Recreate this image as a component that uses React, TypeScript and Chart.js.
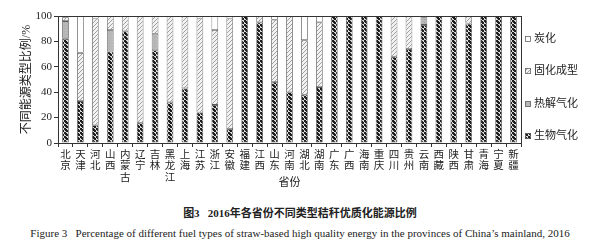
import React, { useEffect, useRef } from 'react';
import { Chart, registerables } from 'chart.js';

Chart.register(...registerables);

const provinces = ['北京', '天津', '河北', '山西', '内蒙古', '辽宁', '吉林', '黑龙江', '上海', '江苏', '浙江', '安徽', '福建', '江西', '山东', '河南', '湖北', '湖南', '广东', '广西', '海南', '重庆', '四川', '贵州', '云南', '西藏', '陕西', '甘肃', '青海', '宁夏', '新疆'];

// 生物气化
const bioGasification = [82, 33, 14, 72, 88, 16, 73, 32, 43, 24, 30, 11, 100, 95, 48, 40, 38, 44, 100, 100, 100, 100, 68, 74, 93, 100, 100, 94, 100, 100, 100];
// 热解气化
const pyrolysisGasification = [14, 0, 0, 17, 0, 0, 13, 0, 0, 0, 0, 0, 0, 0, 0, 0, 0, 0, 0, 0, 0, 0, 0, 0, 6, 0, 0, 0, 0, 0, 0];
// 固化成型
const solidFuel = [3, 38, 84, 11, 12, 84, 14, 68, 57, 74, 59, 87, 0, 5, 49, 60, 43, 51, 0, 0, 0, 0, 32, 26, 1, 0, 0, 6, 0, 0, 0];
// 炭化
const carbonization = [1, 29, 2, 0, 0, 0, 0, 0, 0, 2, 11, 2, 0, 0, 3, 0, 19, 5, 0, 0, 0, 0, 0, 0, 0, 0, 0, 0, 0, 0, 0];

const seriesNames = ['生物气化', '热解气化', '固化成型', '炭化'];
const yMin = 0;
const yMax = 100;
const yStep = 10;
const yTitle = '不同能源类型比例/%';
const xTitle = '省份';
const captionCn = '图3\u2002 2016年各省份不同类型秸秆优质化能源比例';
const captionEn = 'Figure 3\u2002 Percentage of different fuel types of straw-based high quality energy in the provinces of China\u2019s mainland, 2016';

const FONT = '"Liberation Serif", "Noto Sans CJK SC", serif';

function makePattern(kind: string): CanvasPattern | string {
  const c = document.createElement('canvas');
  const ctx = c.getContext('2d')!;
  if (kind === 'bio') {
    c.width = 4; c.height = 4;
    ctx.fillStyle = '#d8d8d8';
    ctx.fillRect(0, 0, 4, 4);
    ctx.fillStyle = '#1e1e1e';
    ctx.fillRect(0, 0, 2, 2);
    ctx.fillRect(2, 2, 2, 2);
    ctx.fillRect(1, 1, 2, 2);
  } else if (kind === 'pyro') {
    c.width = 3; c.height = 3;
    ctx.fillStyle = '#b8b8b8';
    ctx.fillRect(0, 0, 3, 3);
    ctx.fillStyle = '#a8a8a8';
    ctx.fillRect(1, 1, 1, 1);
  } else if (kind === 'solid') {
    c.width = 4; c.height = 4;
    ctx.fillStyle = '#f2f2f2';
    ctx.fillRect(0, 0, 4, 4);
    ctx.fillStyle = '#a0a0a0';
    for (let i = 0; i < 4; i++) ctx.fillRect(i, 3 - i, 1, 1);
  } else {
    return '#ffffff';
  }
  return ctx.createPattern(c, 'repeat')!;
}

const sideLegendAndFrame = {
  id: 'sideLegendAndFrame',
  afterDraw(chart: any) {
    const { ctx, chartArea } = chart;
    const ds = chart.data.datasets;
    ctx.save();
    ctx.strokeStyle = '#333';
    ctx.lineWidth = 1;
    ctx.strokeRect(Math.round(chartArea.left) + 0.5, Math.round(chartArea.top) + 0.5, Math.round(chartArea.width), Math.round(chartArea.height));
    ctx.font = '11px ' + FONT;
    ctx.textBaseline = 'middle';
    ctx.textAlign = 'left';
    const n = ds.length;
    for (let k = 0; k < n; k++) {
      const d = ds[n - 1 - k];
      const y = Math.round(chartArea.top + 23 + k * 32.3);
      const x = Math.round(chartArea.right + 4);
      ctx.fillStyle = d.backgroundColor;
      ctx.fillRect(x, y - 3, 6, 6);
      ctx.strokeStyle = '#666';
      ctx.lineWidth = 0.8;
      ctx.strokeRect(x + 0.5, y - 2.5, 5, 5);
      ctx.fillStyle = '#222';
      ctx.fillText(d.label, x + 9, y + 0.5);
    }
    ctx.restore();
  },
};

export default function App() {
  const ref = useRef<HTMLCanvasElement | null>(null);

  useEffect(() => {
    if (!ref.current) return;
    const fills = [makePattern('bio'), makePattern('pyro'), makePattern('solid'), makePattern('carbon')];
    const values = [bioGasification, pyrolysisGasification, solidFuel, carbonization];
    const chart = new Chart(ref.current, {
      type: 'bar',
      data: {
        labels: provinces.map((p) => p.split('')),
        datasets: seriesNames.map((name, i) => ({
          label: name,
          data: values[i],
          backgroundColor: fills[i] as any,
          borderColor: '#5a5a5a',
          borderWidth: 0.8,
          borderSkipped: false,
          categoryPercentage: 0.9,
          barPercentage: 0.5,
        })),
      },
      options: {
        responsive: false,
        animation: false,
        devicePixelRatio: 1,
        layout: { padding: { left: 0, top: 16, right: 79, bottom: 5 } },
        plugins: {
          legend: { display: false },
          tooltip: { enabled: false },
        },
        scales: {
          x: {
            stacked: true,
            afterFit: (s: any) => { s.height = 47; },
            grid: { display: true, drawOnChartArea: false, drawTicks: true, tickLength: 4, color: '#333', offset: true },
            border: { display: true, color: '#333' },
            ticks: {
              autoSkip: false,
              maxRotation: 0,
              minRotation: 0,
              padding: 2,
              color: '#222',
              font: { family: FONT, size: 10.5, lineHeight: 1.1 },
            },
            title: {
              display: true,
              text: xTitle,
              color: '#222',
              font: { family: FONT, size: 11 },
              padding: { top: 0, bottom: 0 },
            },
          },
          y: {
            stacked: true,
            min: yMin,
            max: yMax,
            afterFit: (s: any) => { s.width = 58; },
            grid: { display: true, drawOnChartArea: false, drawTicks: true, tickLength: 4, color: '#333' },
            border: { display: true, color: '#333' },
            ticks: {
              stepSize: yStep,
              padding: 2,
              color: '#222',
              font: { family: FONT, size: 11 },
            },
            title: {
              display: true,
              text: yTitle,
              color: '#222',
              font: { family: FONT, size: 12 },
              padding: { top: 20, bottom: 0 },
            },
          },
        },
      },
      plugins: [sideLegendAndFrame],
    });
    return () => chart.destroy();
  }, []);

  return (
    <div style={{ position: 'absolute', left: 0, top: 0, width: 600, height: 247, background: '#fff', overflow: 'hidden' }}>
      <canvas ref={ref} width={600} height={195} style={{ display: 'block', width: 600, height: 195 }} />
      <div style={{ position: 'absolute', left: 0, top: 206, width: 600, textAlign: 'center', fontFamily: FONT, fontWeight: 'bold', fontSize: 11, lineHeight: '14px', color: '#222', whiteSpace: 'nowrap' }}>
        {captionCn}
      </div>
      <div style={{ position: 'absolute', left: 0, top: 226, width: 600, textAlign: 'center', fontFamily: FONT, fontSize: 11, lineHeight: '14px', color: '#222', whiteSpace: 'nowrap' }}>
        {captionEn}
      </div>
    </div>
  );
}
